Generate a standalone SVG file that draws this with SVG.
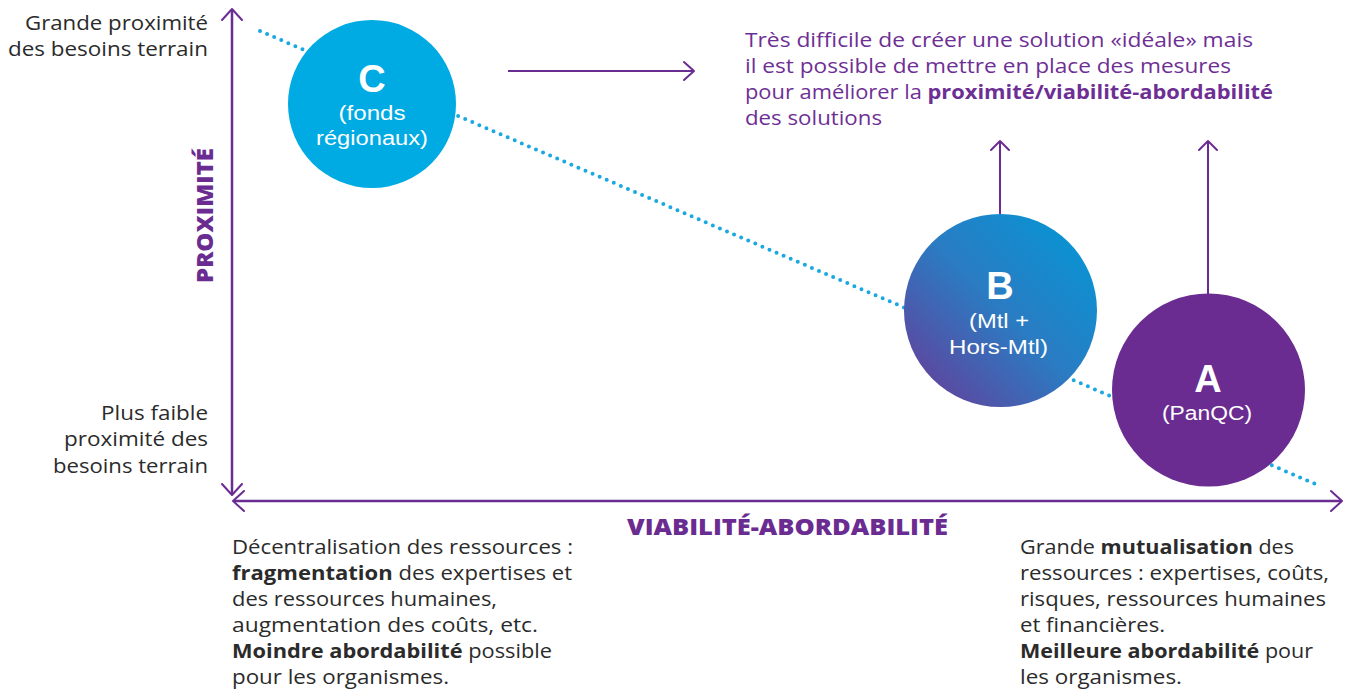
<svg xmlns="http://www.w3.org/2000/svg" width="1349" height="691" viewBox="0 0 1349 691">
  <defs>
    <style>
      .axis { stroke: #6a2c91; stroke-width: 2.5; fill: none; }
      .arrow { stroke: #6a2c91; stroke-width: 2; fill: none; }
      .head { stroke: #6a2c91; stroke-width: 2; fill: none; stroke-linecap: round; stroke-linejoin: round; }
      .dots { stroke: #1aa8e2; stroke-width: 4; stroke-linecap: round; stroke-dasharray: 0 7.7; fill: none; }
      .body { font-family: "Open Sans", "Liberation Sans", sans-serif; font-size: 20px; fill: #2b2b2b; }
      .note { font-family: "Open Sans", "Liberation Sans", sans-serif; font-size: 19.5px; fill: #6e2f95; }
      .axislabel { font-family: "Open Sans", "Liberation Sans", sans-serif; font-size: 23px; font-weight: 800; fill: #6a2c91; }
      .b { font-weight: 700; }
      .letter { font-family: "Liberation Sans", Arial, sans-serif; font-size: 38px; font-weight: 700; fill: #ffffff; text-anchor: middle; }
      .sub { font-family: "Liberation Sans", Arial, sans-serif; font-size: 20px; fill: #ffffff; text-anchor: middle; }
    </style>
    <linearGradient id="gradB" x1="1" y1="0" x2="0" y2="1">
      <stop offset="0" stop-color="#009ad8"/>
      <stop offset="0.5" stop-color="#2b7bc2"/>
      <stop offset="1" stop-color="#6c3795"/>
    </linearGradient>
  </defs>

  <!-- trend line and arrows -->
  <g id="connectors">
    <line class="dots" x1="260" y1="31" x2="1320" y2="486"/>
    <!-- vertical axis, arrowheads at both ends -->
    <line class="axis" x1="232" y1="10" x2="232" y2="494"/>
    <polyline class="head" points="222,20 232,9 242,20"/>
    <polyline class="head" points="222,484 232,495 242,484"/>
    <!-- horizontal axis, arrowheads at both ends -->
    <line class="axis" x1="234" y1="501" x2="1341" y2="501"/>
    <polyline class="head" points="244,491 233,501 244,511"/>
    <polyline class="head" points="1331,491 1342,501 1331,511"/>
    <!-- arrow from C to the note -->
    <line class="arrow" x1="508" y1="71" x2="694" y2="71"/>
    <polyline class="head" points="684,62 694,71 684,80"/>
    <!-- upward arrows from B and A -->
    <line class="arrow" x1="1000" y1="141" x2="1000" y2="214"/>
    <polyline class="head" points="991,150 1000,141 1009,150"/>
    <line class="arrow" x1="1208" y1="141" x2="1208" y2="294"/>
    <polyline class="head" points="1199,150 1208,141 1217,150"/>
  </g>

  <g id="node-C">
    <circle cx="372" cy="104" r="84" fill="#00aae3"/>
    <text class="letter" x="372" y="92">C</text>
    <text class="sub" x="372" y="119.5" textLength="67" lengthAdjust="spacingAndGlyphs">(fonds</text>
    <text class="sub" x="372" y="145" textLength="112" lengthAdjust="spacingAndGlyphs">régionaux)</text>
  </g>

  <g id="node-B">
    <circle cx="1000.5" cy="310.5" r="96.5" fill="url(#gradB)"/>
    <text class="letter" x="1000" y="299">B</text>
    <text class="sub" x="999" y="327.5" textLength="60" lengthAdjust="spacingAndGlyphs">(Mtl +</text>
    <text class="sub" x="998.5" y="354" textLength="99" lengthAdjust="spacingAndGlyphs">Hors-Mtl)</text>
  </g>

  <g id="node-A">
    <circle cx="1208.5" cy="390" r="96.5" fill="#6a2c91"/>
    <text class="letter" x="1208" y="392">A</text>
    <text class="sub" x="1207" y="420" textLength="90" lengthAdjust="spacingAndGlyphs">(PanQC)</text>
  </g>

  <g id="axis-labels">
    <text class="axislabel" transform="translate(213,215.5) rotate(-90)" text-anchor="middle" textLength="135" lengthAdjust="spacingAndGlyphs">PROXIMITÉ</text>
    <text class="axislabel" x="787.5" y="535" text-anchor="middle" textLength="321" lengthAdjust="spacingAndGlyphs">VIABILITÉ-ABORDABILITÉ</text>
  </g>

  <g id="scale-top" class="body" text-anchor="end">
    <text x="208" y="30" textLength="183" lengthAdjust="spacingAndGlyphs">Grande proximité</text>
    <text x="208" y="56" textLength="200" lengthAdjust="spacingAndGlyphs">des besoins terrain</text>
  </g>

  <g id="scale-bottom" class="body" text-anchor="end">
    <text x="208" y="420" textLength="107" lengthAdjust="spacingAndGlyphs">Plus faible</text>
    <text x="208" y="446" textLength="144" lengthAdjust="spacingAndGlyphs">proximité des</text>
    <text x="208" y="473" textLength="155" lengthAdjust="spacingAndGlyphs">besoins terrain</text>
  </g>

  <g id="note">
    <text class="note" x="745" y="47" textLength="508" lengthAdjust="spacingAndGlyphs">Très difficile de créer une solution «idéale» mais</text>
    <text class="note" x="745" y="73" textLength="486" lengthAdjust="spacingAndGlyphs">il est possible de mettre en place des mesures</text>
    <text class="note" x="745" y="99" textLength="528" lengthAdjust="spacingAndGlyphs">pour améliorer la <tspan class="b">proximité/viabilité-abordabilité</tspan></text>
    <text class="note" x="745" y="125" textLength="137" lengthAdjust="spacingAndGlyphs">des solutions</text>
  </g>

  <g id="left-description" class="body">
    <text x="232" y="554" textLength="341" lengthAdjust="spacingAndGlyphs">Décentralisation des ressources :</text>
    <text x="232" y="580" textLength="340" lengthAdjust="spacingAndGlyphs"><tspan class="b">fragmentation</tspan> des expertises et</text>
    <text x="232" y="606" textLength="265" lengthAdjust="spacingAndGlyphs">des ressources humaines,</text>
    <text x="232" y="632" textLength="306" lengthAdjust="spacingAndGlyphs">augmentation des coûts, etc.</text>
    <text x="232" y="658" textLength="320" lengthAdjust="spacingAndGlyphs"><tspan class="b">Moindre abordabilité</tspan> possible</text>
    <text x="232" y="684" textLength="217" lengthAdjust="spacingAndGlyphs">pour les organismes.</text>
  </g>

  <g id="right-description" class="body">
    <text x="1020" y="554" textLength="274" lengthAdjust="spacingAndGlyphs">Grande <tspan class="b">mutualisation</tspan> des</text>
    <text x="1020" y="580" textLength="309" lengthAdjust="spacingAndGlyphs">ressources : expertises, coûts,</text>
    <text x="1020" y="606" textLength="306" lengthAdjust="spacingAndGlyphs">risques, ressources humaines</text>
    <text x="1020" y="632" textLength="145" lengthAdjust="spacingAndGlyphs">et financières.</text>
    <text x="1020" y="658" textLength="293" lengthAdjust="spacingAndGlyphs"><tspan class="b">Meilleure abordabilité</tspan> pour</text>
    <text x="1020" y="684" textLength="162" lengthAdjust="spacingAndGlyphs">les organismes.</text>
  </g>
</svg>
